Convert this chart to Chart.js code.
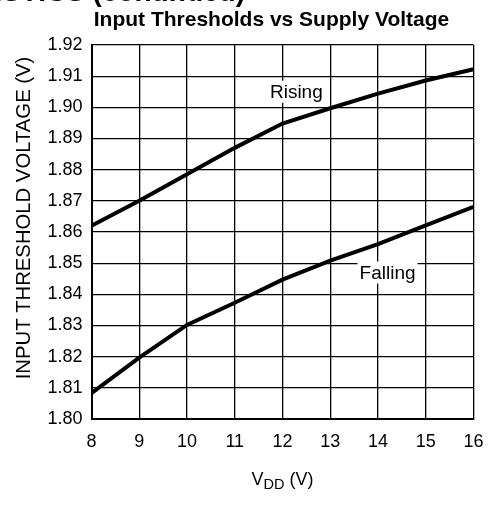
<!DOCTYPE html>
<html>
<head>
<meta charset="utf-8">
<script src="https://cdn.jsdelivr.net/npm/chart.js@4"></script>
<style>
  body { margin: 0; background: #fff; }
  #box { width: 488px; height: 508px; }
</style>
</head>
<body>
<div id="box"><canvas id="myChart" width="488" height="508"></canvas></div>
<script>
// data
const vdd = [8, 9, 10, 11, 12, 13, 14, 15, 16];
const rising = [1.862, 1.870, 1.8785, 1.887, 1.8948, 1.8997, 1.9044, 1.9086, 1.9122];
const falling = [1.8083, 1.8197, 1.8302, 1.8373, 1.8447, 1.8508, 1.8561, 1.8621, 1.8681];
const yTicks = [1.80, 1.81, 1.82, 1.83, 1.84, 1.85, 1.86, 1.87, 1.88, 1.89, 1.90, 1.91, 1.92];
const seriesNames = ["Rising", "Falling"];
// where the curve labels sit, in data units
const labelAt = [{x: 12.29, y: 1.905}, {x: 14.2, y: 1.847}];

const FONT = "'Liberation Sans', Arial, sans-serif";

const pts = (ys) => vdd.map((x, i) => ({x: x, y: ys[i]}));

// texts that are not part of chart.js' own boxes
const extras = {
  id: 'extras',
  afterDraw(chart) {
    const c = chart.ctx;
    const xs = chart.scales.x, ys = chart.scales.y;
    c.save();
    c.fillStyle = '#000';

    // clipped page header at the very top
    c.font = 'bold 28px ' + FONT;
    c.textAlign = 'right';
    c.textBaseline = 'alphabetic';
    c.fillText('TYPICAL CHARACTERISTICS (continued)', 245, 0.5);

    // title
    c.font = 'bold 21px ' + FONT;
    c.textAlign = 'center';
    c.fillText('Input Thresholds vs Supply Voltage', 271.5, 26);

    // y title
    c.save();
    c.translate(30, 218);
    c.rotate(-Math.PI / 2);
    c.font = '20.3px ' + FONT;
    c.textAlign = 'center';
    c.fillText('INPUT THRESHOLD VOLTAGE (V)', 0, 0);
    c.restore();

    // x title with subscript
    const cx = (chart.chartArea.left + chart.chartArea.right) / 2;
    c.textAlign = 'left';
    c.font = '18px ' + FONT;
    const wV = c.measureText('V').width;
    const wP = c.measureText(' (V)').width;
    c.font = '14.5px ' + FONT;
    const wD = c.measureText('DD').width;
    let x0 = cx - (wV + wD + wP) / 2;
    c.font = '18px ' + FONT;
    c.fillText('V', x0, 485);
    c.font = '14.5px ' + FONT;
    c.fillText('DD', x0 + wV, 488.5);
    c.font = '18px ' + FONT;
    c.fillText(' (V)', x0 + wV + wD, 485);

    // curve labels on white boxes
    c.font = '19px ' + FONT;
    c.textAlign = 'center';
    c.textBaseline = 'middle';
    seriesNames.forEach((name, i) => {
      const px = xs.getPixelForValue(labelAt[i].x);
      const py = ys.getPixelForValue(labelAt[i].y);
      const w = c.measureText(name).width;
      c.fillStyle = '#fff';
      c.fillRect(px - w / 2 - 2, py - 11, w + 4, 22);
      c.fillStyle = '#000';
      c.fillText(name, px, py + 1);
    });
    c.restore();
  }
};

const ctx = document.getElementById('myChart');
new Chart(ctx, {
  type: 'line',
  data: {
    datasets: [
      { label: seriesNames[0], data: pts(rising), borderColor: '#000', borderWidth: 4,
        pointRadius: 0, tension: 0, fill: false },
      { label: seriesNames[1], data: pts(falling), borderColor: '#000', borderWidth: 4,
        pointRadius: 0, tension: 0, fill: false }
    ]
  },
  options: {
    responsive: false,
    animation: false,
    devicePixelRatio: 1,
    layout: { padding: { top: 45, right: 14.5, bottom: 0, left: 0 } },
    plugins: {
      legend: { display: false },
      title: { display: false },
      tooltip: { enabled: false }
    },
    scales: {
      x: {
        type: 'linear',
        min: 8, max: 16,
        afterFit: (s) => { s.height = 89; s.paddingLeft = 0; s.paddingRight = 0; },
        ticks: { stepSize: 1, color: '#000', padding: 12, font: { family: FONT, size: 18 } },
        grid: { color: '#000', lineWidth: 1.3, drawTicks: false },
        border: { color: '#000', width: 2 }
      },
      y: {
        min: 1.80, max: 1.92,
        afterFit: (s) => { s.width = 91.5; s.paddingTop = 0; s.paddingBottom = 0; },
        afterBuildTicks: (s) => { s.ticks = yTicks.map(v => ({value: v})); },
        ticks: { color: '#000', padding: 9, font: { family: FONT, size: 18 },
                 callback: (v) => v.toFixed(2) },
        grid: { color: '#000', lineWidth: 1.3, drawTicks: false },
        border: { color: '#000', width: 2 }
      }
    }
  },
  plugins: [extras]
});
</script>
</body>
</html>
